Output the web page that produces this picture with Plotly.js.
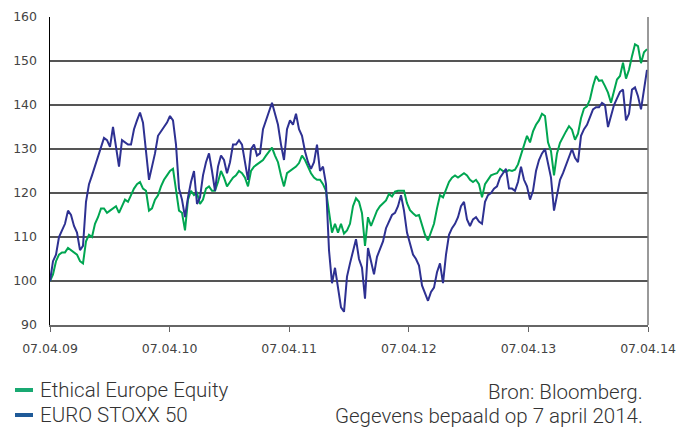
<!DOCTYPE html>
<html>
<head>
<meta charset="utf-8">
<script src="https://cdn.plot.ly/plotly-3.0.1.min.js"></script>
<style>
html,body{margin:0;padding:0;background:#fff;}
#chart{width:691px;height:427px;}
</style>
</head>
<body>
<div id="chart"></div>
<script>
// Series sampled every ~9.16 days from 07.04.2009 to 07.04.2014 (indexed, start = 100)
var startDate = '2009-04-07';
var stepMs = 791467200; // sampling step

var seriesNames = ['Ethical Europe Equity', 'EURO STOXX 50'];

var ethicalEurope = [
  100, 101.5, 104.5, 106, 106.5, 106.5, 107.5, 107, 106.5, 106,
  104.5, 104, 109, 110.5, 110, 113, 114.5, 116.5, 116.5, 115.5,
  116, 116.5, 117, 115.5, 117, 118.5, 118, 119.5, 121, 122,
  122.5, 121, 120.5, 116, 116.5, 118.5, 119.5, 121.5, 123, 124,
  125, 125.5, 121, 116, 115.5, 111.5, 118.5, 120.5, 119.5, 120,
  117.5, 118.5, 121, 121.5, 120.5, 120.5, 122.5, 125, 123.5, 121.5,
  122.5, 123.5, 124, 125, 124.5, 123.5, 121.5, 125, 126, 126.5,
  126.8, 127.5, 128.5, 129.5, 130.3, 128.5, 127, 124, 121.5, 124.5,
  125, 125.3, 126, 126.8, 128.5, 127.5, 126, 124.5, 123.5, 123,
  123, 122, 120.5, 116, 111, 113, 111, 113, 110.8, 111.5,
  113, 117, 118.8, 118, 115.4, 108, 114.5, 112.5, 114.5, 116,
  117, 117.7, 118.3, 119.8, 119.2, 120.3, 120.5, 120.5, 120.5, 117.7,
  116.1, 115.4, 114.8, 115, 113, 110.5, 109.2, 111, 113, 116.5,
  119.5, 119, 121, 122.5, 123.5, 124, 123.5, 124, 124.5, 124,
  123, 122.5, 123, 122, 119, 122, 123, 124, 124.3, 124.5,
  125.5, 125, 124.8, 125.2, 125, 125.3, 126.5, 128.5, 130.8, 133,
  131.5, 134, 135.5, 136.5, 138, 137.5, 131.5, 129.5, 124, 129,
  131.4, 132.9, 134, 135.2, 134.4, 132.1, 133.5, 137, 139.2, 139.7,
  141.3, 144.3, 146.6, 145.5, 145.6, 144.3, 142.8, 140.5, 143.5, 145.8,
  146.6, 149.6, 146, 148, 151.1, 153.8, 153.4, 149.5, 152, 152.7
];

var euroStoxx50 = [
  100, 104.5, 106, 110, 111.5, 113, 116, 115, 112.5, 111,
  107, 108, 118, 122, 124, 126, 128, 130, 132.5, 132,
  130.5, 135, 131, 126, 132, 131.5, 131, 131, 134.5, 136.5,
  138.3, 136, 129, 123, 126, 129, 133, 134, 135, 136,
  137.5, 136.5, 131, 121, 118.5, 114.5, 119, 122.5, 125, 117.5,
  119, 124, 127, 129, 125, 120.5, 126, 128.5, 127.5, 124.5,
  127, 131, 131, 132, 131, 127, 123, 130, 131, 128.5,
  129, 134.5, 136.5, 138, 140.5, 138, 135.5, 131, 127.5, 134.5,
  136.5, 135.5, 138, 134.5, 133, 129.5, 127, 125.5, 127, 131,
  125, 126, 122, 107, 99.5, 103, 99, 94, 93, 101,
  104, 107, 109.5, 105, 103, 96, 107.5, 104.5, 101.5, 105.5,
  107.5, 109, 112, 113.5, 115, 115.5, 117, 119.5, 116, 111,
  108.5, 106, 105, 103.5, 99, 97, 95.5, 97.5, 98.5, 102,
  104, 99.5, 106, 110.5, 112, 113, 114.5, 117, 118, 114,
  112.5, 114, 114.5, 113.5, 113, 118, 119.5, 120, 121, 121.5,
  123.5, 124.5, 125.5, 121, 121, 120.5, 122.5, 126, 123, 121.5,
  118.5, 120.5, 125, 127.5, 129, 130, 127, 123.5, 116, 120,
  123, 124.5, 126.5, 128.5, 130, 128, 127, 133, 134.5, 135.5,
  137.5, 139, 139.5, 139.5, 140.5, 140, 135, 137.5, 140, 141.5,
  143, 143.5, 136.5, 138, 143.5, 144, 142, 139, 143.5, 148
];

var tickDates = ['2009-04-07', '2010-04-07', '2011-04-07', '2012-04-07', '2013-04-07', '2014-04-07'];
var tickLabels = ['07.04.09', '07.04.10', '07.04.11', '07.04.12', '07.04.13', '07.04.14'];
var sourceLines = ['Bron: Bloomberg.', 'Gegevens bepaald op 7 april 2014.'];

var lineColors = ['#00a651', '#2e3192'];
var legendColors = ['#19a972', '#1f5a98'];

var traces = [
  {type: 'scatter', mode: 'lines', name: seriesNames[0], x0: startDate, dx: stepMs,
   y: ethicalEurope, line: {color: lineColors[0], width: 2}, showlegend: false, hoverinfo: 'skip'},
  {type: 'scatter', mode: 'lines', name: seriesNames[1], x0: startDate, dx: stepMs,
   y: euroStoxx50, line: {color: lineColors[1], width: 2}, showlegend: false, hoverinfo: 'skip'}
];

// plot box: left 50, right 648, top 17, bottom 325
function px(xp) { return (xp - 50) / 598; }
function py(yp) { return (325 - yp) / 308; }

var textFont = {family: 'Roboto, "Liberation Sans", sans-serif', size: 20.5, color: '#333333', weight: 300};

var annotations = [
  {xref: 'paper', yref: 'paper', x: px(38), y: py(390), xanchor: 'left', yanchor: 'middle',
   text: seriesNames[0], showarrow: false, font: textFont},
  {xref: 'paper', yref: 'paper', x: px(38), y: py(415), xanchor: 'left', yanchor: 'middle',
   text: seriesNames[1], showarrow: false, font: textFont},
  {xref: 'paper', yref: 'paper', x: px(645), y: py(392), xanchor: 'right', yanchor: 'middle',
   text: sourceLines[0], showarrow: false, font: textFont},
  {xref: 'paper', yref: 'paper', x: px(645), y: py(416), xanchor: 'right', yanchor: 'middle',
   text: sourceLines[1], showarrow: false, font: textFont}
];

var shapes = [
  {type: 'line', xref: 'paper', yref: 'paper', x0: px(15), x1: px(33), y0: py(390), y1: py(390),
   line: {color: legendColors[0], width: 4}},
  {type: 'line', xref: 'paper', yref: 'paper', x0: px(15), x1: px(33), y0: py(415), y1: py(415),
   line: {color: legendColors[1], width: 4}},
  {type: 'line', xref: 'paper', yref: 'paper', x0: 1, x1: 1, y0: 0, y1: 1,
   line: {color: '#777777', width: 1.5}}
];

var layout = {
  width: 691, height: 427,
  margin: {l: 50, r: 43, t: 17, b: 102},
  paper_bgcolor: '#ffffff', plot_bgcolor: '#ffffff',
  showlegend: false,
  xaxis: {
    type: 'date', range: [tickDates[0], tickDates[5]],
    tickmode: 'array', tickvals: tickDates, ticktext: tickLabels,
    showgrid: false, zeroline: false,
    showline: true, linecolor: '#666666', linewidth: 1.5,
    ticks: 'outside', ticklen: 5, tickcolor: '#666666', tickwidth: 1,
    ticklabelstandoff: 6,
    tickfont: {family: '"DejaVu Sans", sans-serif', size: 12.5, color: '#444444'}
  },
  yaxis: {
    range: [90, 160], tickmode: 'array', tickvals: [90, 100, 110, 120, 130, 140, 150, 160],
    showgrid: true, gridcolor: '#555555', gridwidth: 1.3,
    zeroline: false, showline: true, linecolor: '#000000', linewidth: 1.5,
    ticks: '', ticklabelstandoff: 9,
    tickfont: {family: '"DejaVu Sans", sans-serif', size: 12.5, color: '#444444'}
  },
  annotations: annotations,
  shapes: shapes
};

Plotly.newPlot('chart', traces, layout, {staticPlot: true, displayModeBar: false});
</script>
</body>
</html>
